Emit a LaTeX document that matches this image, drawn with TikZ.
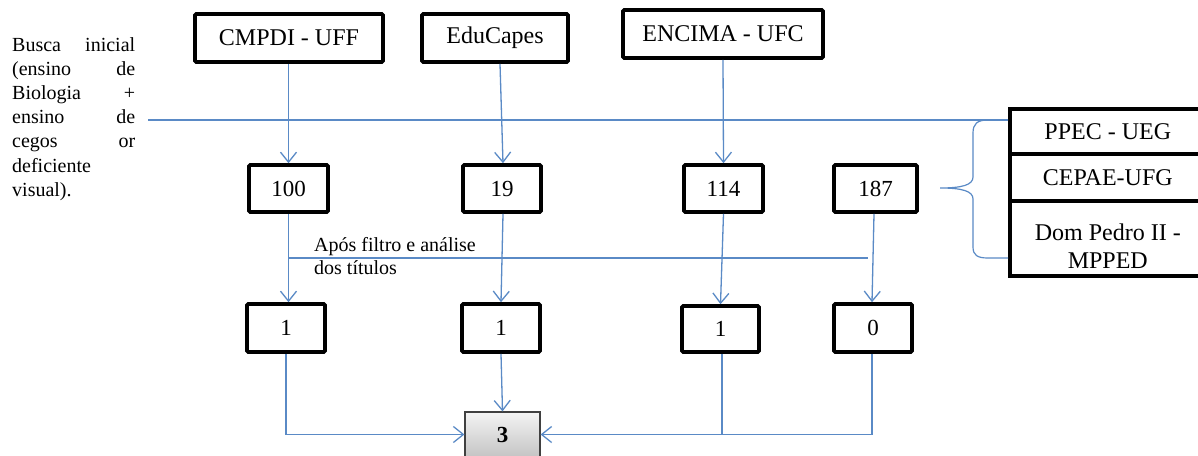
\documentclass[tikz,border=0pt]{standalone}
\usepackage{fontspec}
\setmainfont{Liberation Serif}
\usetikzlibrary{arrows.meta}
\definecolor{conn}{HTML}{5A8AC6}
\definecolor{gtop}{HTML}{F4F4F4}
\definecolor{gbot}{HTML}{C4C4C4}
\tikzset{
  boxA/.style={draw=black, line width=3.6pt, rounded corners=1.2pt, fill=white, inner sep=0pt,
     font=\fontsize{24}{28}\selectfont, text=black},
  numbox/.style={draw=black, line width=3.6pt, rounded corners=1.2pt, fill=white, inner sep=0pt,
     minimum height=47pt, font=\fontsize{23}{27}\selectfont},
  stackbox/.style={draw=black, line width=3.6pt, fill=white, inner sep=0pt, minimum width=196pt,
     font=\fontsize{24}{28}\selectfont, align=center},
  totalbox/.style={draw=black!75, line width=1.2pt, top color=gtop, bottom color=gbot, inner sep=0pt,
     minimum width=75pt, minimum height=45pt, font=\fontsize{23}{27}\selectfont\bfseries},
  conline/.style={draw=conn, line width=1.3pt},
  conarrow/.style={conline, -{Straight Barb[length=10pt,width=16pt,line width=1.3pt]}},
  plaintext/.style={inner sep=0pt, font=\fontsize{20}{24.2}\selectfont, text=black}
}
\begin{document}
\begin{tikzpicture}[x=1pt,y=-1pt]
\useasboundingbox (0,0) rectangle (1198,455);
\clip (0,0) rectangle (1198,455);
\fill[white] (0,0) rectangle (1198,455);

% top boxes
\node[boxA, minimum width=188pt, minimum height=48pt] (cmpdi) at (289,38) {CMPDI - UFF};
\node[boxA, minimum width=146pt, minimum height=48pt] (edu) at (495,38) {EduCapes};
\node[boxA, minimum width=200pt, minimum height=48pt] (encima) at (723,34) {ENCIMA - UFC};

% middle numbers
\node[numbox, minimum width=79pt] (n100) at (288.5,188.5) {100};
\node[numbox, minimum width=78pt] (n19) at (502,188.5) {19};
\node[numbox, minimum width=79pt] (n114) at (723.5,188.5) {114};
\node[numbox, minimum width=83pt] (n187) at (875.5,188.5) {187};

% bottom numbers
\node[numbox, minimum width=78pt, minimum height=48pt] (b1) at (286,328) {1};
\node[numbox, minimum width=78pt, minimum height=48pt] (b2) at (501,328) {1};
\node[numbox, minimum width=77pt, minimum height=46pt] (b3) at (720.5,329) {1};
\node[numbox, minimum width=78pt, minimum height=48pt] (b0) at (873,328) {0};

% total
\node[totalbox] (total) at (502.5,434.5) {3};

% right stack
\node[stackbox, minimum height=45pt, anchor=north west] (ppec) at (1008,107) {PPEC - UEG};
\node[stackbox, minimum height=47pt, anchor=north west] (cepae) at (1008,152) {CEPAE-UFG};
\node[stackbox, minimum height=75pt, anchor=north west, text depth=0pt] (dom) at (1008,199)
  {\begin{tabular}{@{}c@{}}\fontsize{24}{28}\selectfont Dom Pedro II -\\[-0.5pt]\fontsize{24}{28}\selectfont MPPED\end{tabular}};

% left text
\node[plaintext, anchor=north west, align=left] (busca) at (12,37) {%
\hbox to 123pt{Busca\hfill inicial}\\
\hbox to 123pt{(ensino\hfill de}\\
\hbox to 123pt{Biologia\hfill +}\\
\hbox to 123pt{ensino\hfill de}\\
\hbox to 123pt{cegos\hfill or}\\
deficiente\\
visual).};

% filter text
\node[plaintext, anchor=north west, align=left, font=\fontsize{20}{23}\selectfont] (filtro) at (314,237) {Após filtro e análise\\dos títulos};

% connectors top -> middle
\draw[conarrow] (cmpdi.south -| n100.north) -- (n100.north);
\draw[conarrow] (edu.south -| 500,0) -- (n19.north -| 503,0);
\draw[conarrow] (encima.south) -- (n114.north);

% middle -> bottom
\draw[conarrow] (n100.south) -- (n100.south |- b1.north);
\draw[conarrow] (n19.south -| 503,0) -- (b2.north);
\draw[conarrow] (n114.south) -- (b3.north);
\draw[conarrow] (n187.south -| 874,0) -- (b0.north -| 872,0);

% filter line
\coordinate (fa) at (288,258);
\coordinate (fb) at (868,258);
\draw[conline] (fa) -- (fb);

% search line to stack
\coordinate (lt) at (148,120);
\draw[conline] (lt) -- (lt -| ppec.west);

% brace
\draw[conline, line width=1.2pt] (1008,120) -- (988,120)
  .. controls (977,120) and (973,124) .. (973,133) -- (973,177)
  .. controls (973,185) and (962,188) .. (940,188)
  .. controls (962,188) and (973,191) .. (973,199) -- (973,247)
  .. controls (973,255) and (977,258) .. (988,258) -- (1008,258);

% bottom -> total
\draw[conarrow] (b1.south) |- (total.west);
\draw[conarrow] (b2.south) -- (total.north);
\draw[conarrow] (b0.south -| 872,0) |- (total.east);
\draw[conline] (b3.south -| 722,0) -- (722,434.5);
\end{tikzpicture}
\end{document}
